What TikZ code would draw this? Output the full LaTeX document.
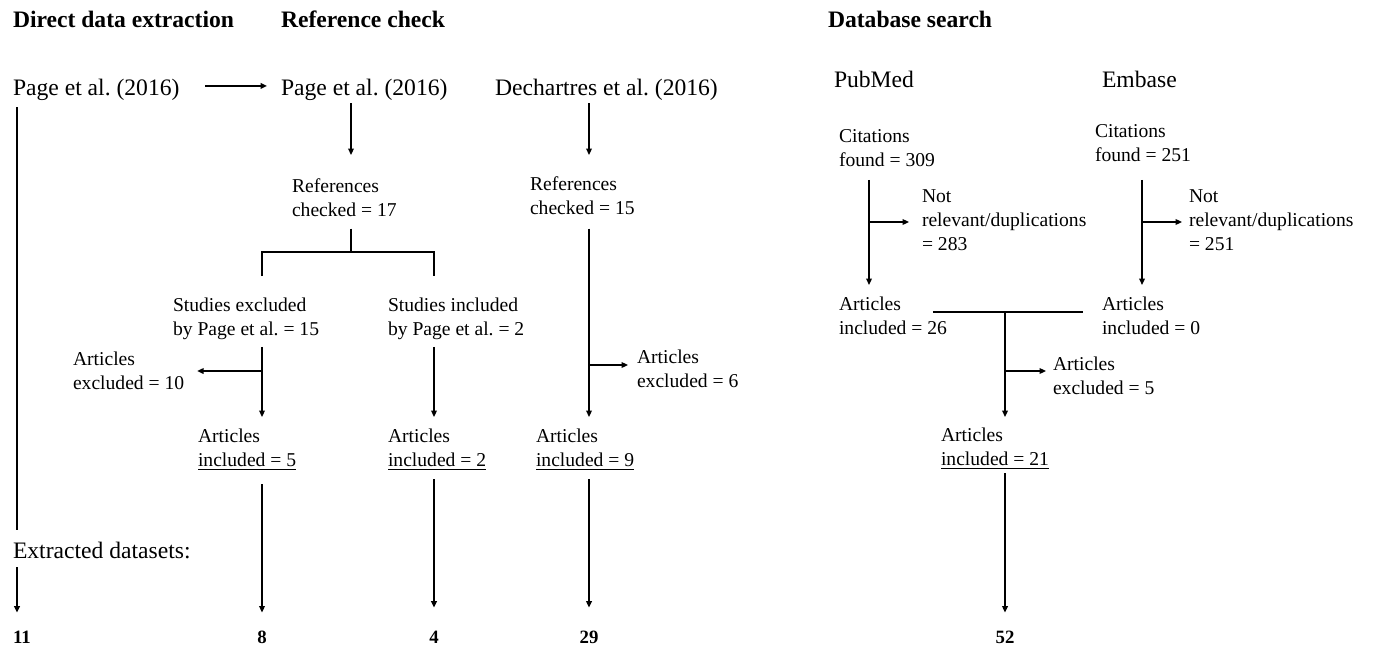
\documentclass[tikz,border=0pt]{standalone}
\usepackage{fontspec}
\setmainfont{Liberation Serif}
\usetikzlibrary{arrows.meta}
\frenchspacing

\begin{document}
\begin{tikzpicture}[
x=0.5pt, y=-0.5pt,
every node/.style={inner sep=0pt, outer sep=0pt, align=left},
head/.style={font=\bfseries\fontsize{11.8}{14}\selectfont, anchor=base west},
big/.style={font=\fontsize{11.8}{14}\selectfont, anchor=base west},
lbl/.style={font=\fontsize{9.8}{11.8}\selectfont, anchor=north west},
num/.style={font=\bfseries\fontsize{9.4}{11}\selectfont, anchor=base},
ln/.style={draw, line width=0.75pt},
arr/.style={ln, -{Triangle[length=3.2pt,width=2.8pt]}}
]
\useasboundingbox (0,0) rectangle (1374,647);

% columns and junctions
\coordinate (cDir) at (17,0);
\coordinate (cExcl) at (262,0);
\coordinate (cIncl) at (434,0);
\coordinate (cDech) at (589,0);
\coordinate (cPub) at (869,0);
\coordinate (cEmb) at (1142,0);
\coordinate (splitPage) at (351,252);
\coordinate (brExcl) at (262,371);
\coordinate (brDech) at (589,365);
\coordinate (brPub) at (869,222);
\coordinate (brEmb) at (1142,222);
\coordinate (merge) at (1005,312);
\coordinate (brMerge) at (1005,371);

% headings
\node[head] (hDirect) at (13,28) {Direct data extraction};
\node[head] (hRef) at (281,28) {Reference check};
\node[head] (hDb) at (828,28) {Database search};

% sources
\node[big] (page1) at (13,96) {Page et al. (2016)};
\node[big] (page2) at (281,96) {Page et al. (2016)};
\node[big] (dech) at (495,96) {Dechartres et al. (2016)};
\node[big] (pubmed) at (834,88) {PubMed};
\node[big] (embase) at (1102,88) {Embase};

% reference check
\node[lbl] (refPage) at (292,179) {References\\checked = 17};
\node[lbl] (refDech) at (530,177) {References\\checked = 15};
\node[lbl] (studExcl) at (173,298) {Studies excluded\\by Page et al. = 15};
\node[lbl] (studIncl) at (388,298) {Studies included\\by Page et al. = 2};
\node[lbl] (artEx10) at (73,352) {Articles\\excluded = 10};
\node[lbl] (artIn5) at (198,429) {Articles\\\underline{included = 5}};
\node[lbl] (artIn2) at (388,429) {Articles\\\underline{included = 2}};
\node[lbl] (artEx6) at (637,350) {Articles\\excluded = 6};
\node[lbl] (artIn9) at (536,429) {Articles\\\underline{included = 9}};

% database search
\node[lbl] (citPub) at (839,130) {Citations\\found = 309};
\node[lbl] (citEmb) at (1095,125) {Citations\\found = 251};
\node[lbl] (notPub) at (922,190) {Not\\relevant/duplications\\= 283};
\node[lbl] (notEmb) at (1189,190) {Not\\relevant/duplications\\= 251};
\node[lbl] (art26) at (839,297) {Articles\\included = 26};
\node[lbl] (art0) at (1102,297) {Articles\\included = 0};
\node[lbl] (artEx5) at (1053,357) {Articles\\excluded = 5};
\node[lbl] (art21) at (941,428) {Articles\\\underline{included = 21}};

% datasets
\node[big] (extr) at (13,558) {Extracted datasets:};
\node[num] (n11) at (22,643) {11};
\node[num] (n8) at (262,643) {8};
\node[num] (n4) at (434,643) {4};
\node[num] (n29) at (589,643) {29};
\node[num] (n52) at (1005,643) {52};

% direct extraction
\draw[arr, shorten <=13pt, shorten >=7pt] ([yshift=2.2pt]page1.east) -- ([yshift=2.2pt]page1.east -| page2.west);
\draw[ln, shorten <=3pt, shorten >=6pt] (page1.south -| cDir) -- (extr.north -| cDir);
\draw[arr, shorten <=4.5pt, shorten >=9pt] (extr.south -| cDir) -- (n11.north -| cDir);

% Page et al.
\draw[arr, shorten <=1pt, shorten >=12pt] (page2.south -| splitPage) -- (refPage.north -| splitPage);
\draw[ln, shorten <=6pt] (refPage.south -| splitPage) -- (splitPage);
\draw[ln, shorten <=11pt, shorten >=11pt] (studExcl.north -| cExcl) |- (splitPage) -| (studIncl.north -| cIncl);
\draw[arr, shorten <=3.7pt, shorten >=6pt] (studExcl.south -| cExcl) -- (artIn5.north -| cExcl);
\draw[arr, shorten >=6.5pt] (brExcl) -- (artEx10.east |- brExcl);
\draw[arr, shorten <=3.7pt, shorten >=6pt] (studIncl.south -| cIncl) -- (artIn2.north -| cIncl);
\draw[arr, shorten <=7pt, shorten >=9pt] (artIn5.south -| cExcl) -- (n8.north -| cExcl);
\draw[arr, shorten <=4.5pt, shorten >=11.5pt] (artIn2.south -| cIncl) -- (n4.north -| cIncl);

% Dechartres et al.
\draw[arr, shorten <=1pt, shorten >=11pt] (dech.south -| cDech) -- (refDech.north -| cDech);
\draw[arr, shorten <=7pt, shorten >=6pt] (refDech.south -| cDech) -- (artIn9.north -| cDech);
\draw[arr, shorten >=4.5pt] (brDech) -- (artEx6.west |- brDech);
\draw[arr, shorten <=4.5pt, shorten >=11.5pt] (artIn9.south -| cDech) -- (n29.north -| cDech);

% PubMed and Embase
\draw[arr, shorten <=6.5pt, shorten >=6pt] (citPub.south -| cPub) -- (art26.north -| cPub);
\draw[arr, shorten >=6.5pt] (brPub) -- (notPub.west |- brPub);
\draw[arr, shorten <=9pt, shorten >=6pt] (citEmb.south -| cEmb) -- (art0.north -| cEmb);
\draw[arr, shorten >=3.5pt] (brEmb) -- (notEmb.west |- brEmb);
\draw[ln, shorten <=-7pt, shorten >=9.5pt] (art26.east |- merge) -- (art0.west |- merge);
\draw[arr, shorten >=5.5pt] (merge) -- (art21.north -| merge);
\draw[arr, shorten >=3.5pt] (brMerge) -- (artEx5.west |- brMerge);
\draw[arr, shorten <=2pt, shorten >=9pt] (art21.south -| merge) -- (n52.north -| merge);

\end{tikzpicture}
\end{document}
